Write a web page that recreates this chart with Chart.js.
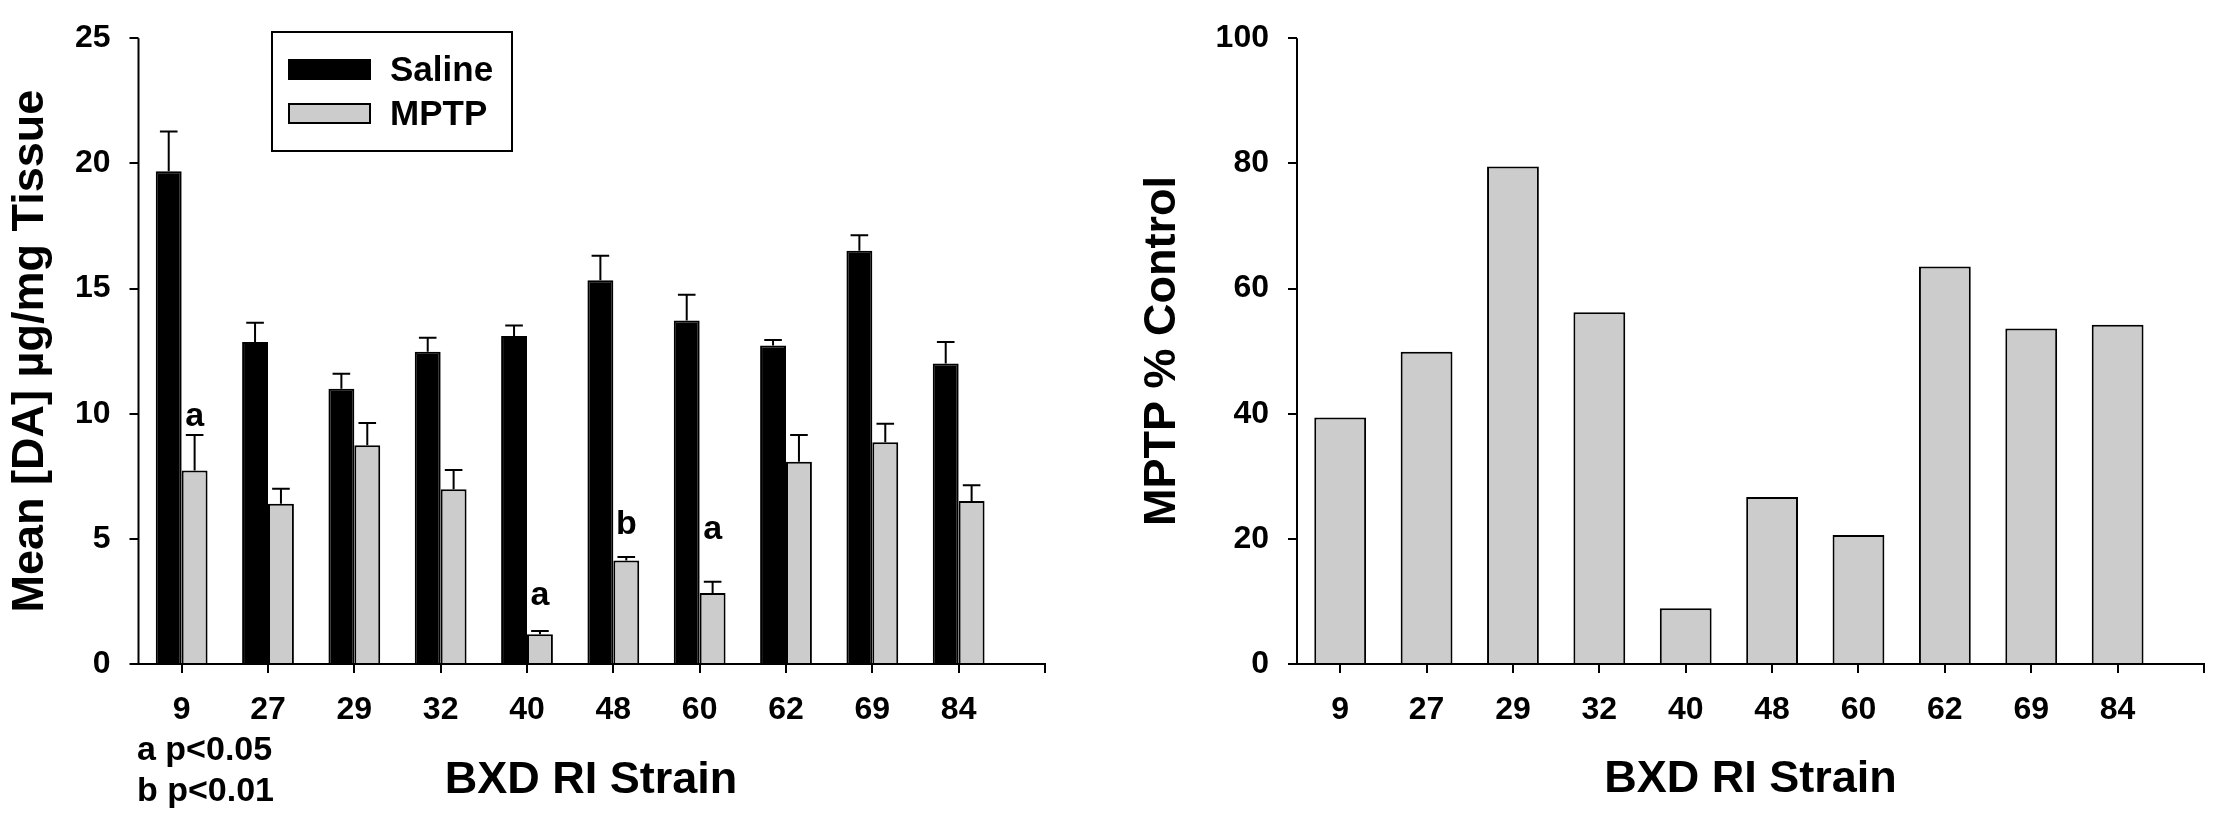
<!DOCTYPE html>
<html>
<head>
<meta charset="utf-8">
<script src="https://cdn.jsdelivr.net/npm/chart.js@4.4.1/dist/chart.umd.min.js"></script>
<style>
  html, body { margin: 0; padding: 0; background: #fff; }
  #wrap { position: relative; width: 2213px; height: 817px; overflow: hidden; }
  #left { position: absolute; left: 0; top: 0; }
  #right { position: absolute; left: 1100px; top: 0; }
</style>
</head>
<body>
<div id="wrap">
  <canvas id="left" width="1120" height="817"></canvas>
  <canvas id="right" width="1113" height="817"></canvas>
</div>
<script>
// BXD strains on the x axis
const strains = ['9', '27', '29', '32', '40', '48', '60', '62', '69', '84'];

// left panel: mean dopamine (ug/mg tissue) and SEM
const salineMean = [19.68, 12.86, 11.0, 12.47, 13.10, 15.33, 13.72, 12.72, 16.51, 12.0];
const salineSem  = [1.59, 0.77, 0.60, 0.56, 0.42, 0.98, 1.03, 0.22, 0.62, 0.86];
const mptpMean   = [7.73, 6.40, 8.74, 6.98, 1.19, 4.13, 2.84, 8.08, 8.86, 6.51];
const mptpSem    = [1.42, 0.60, 0.89, 0.77, 0.13, 0.14, 0.45, 1.07, 0.74, 0.63];

// significance letters over the MPTP bars (baseline in data units)
const sigLetters = ['a', '', '', '', 'a', 'b', 'a', '', '', ''];
const sigAt      = [9.5, null, null, null, 2.35, 5.2, 5.0, null, null, null];

// right panel: MPTP as % of saline control
const pctControl = [39.4, 49.9, 79.5, 56.2, 8.9, 26.7, 20.6, 63.5, 53.6, 54.2];

const leftTicks = [0, 5, 10, 15, 20, 25];
const rightTicks = [0, 20, 40, 60, 80, 100];

const FONT = '"Liberation Sans", Arial, Helvetica, sans-serif';
const TICK_LEN = 9;
const toPoints = (arr) => arr.map((v, i) => ({ x: i, y: v }));

// grid kept for spacing only, the visible axes are drawn by the axisLines plugin
const hiddenGrid = { offset: false, drawOnChartArea: false, drawTicks: true, tickLength: TICK_LEN, color: 'rgba(0,0,0,0)' };

function strainAxis(height) {
    return {
        type: 'linear',
        offset: false,
        min: -0.5,
        max: strains.length,
        afterBuildTicks: (scale) => {
            const ticks = strains.map((s, i) => ({ value: i }));
            ticks.push({ value: strains.length });
            scale.ticks = ticks;
        },
        afterFit: (scale) => {
            scale.height = height;
            scale.paddingLeft = 0;
            scale.paddingRight = 0;
        },
        ticks: {
            color: '#000',
            padding: 18,
            maxRotation: 0,
            autoSkip: false,
            font: { family: FONT, size: 32, weight: 'bold' },
            callback: (value) => strains[value] !== undefined ? strains[value] : ''
        },
        grid: hiddenGrid,
        border: { display: false }
    };
}

function valueAxis(max, tickValues, width, title) {
    return {
        min: 0,
        max: max,
        afterBuildTicks: (scale) => { scale.ticks = tickValues.map((v) => ({ value: v })); },
        afterFit: (scale) => { scale.width = width; },
        ticks: {
            color: '#000',
            padding: 19,
            font: { family: FONT, size: 32, weight: 'bold' }
        },
        grid: hiddenGrid,
        border: { display: false },
        title: {
            display: true,
            text: title,
            color: '#000',
            padding: { top: 4, bottom: 0 },
            font: { family: FONT, size: 45, weight: 'bold' }
        }
    };
}

// axis lines and outward tick marks
const axisLines = {
    id: 'axisLines',
    afterDatasetsDraw(chart) {
        const ctx = chart.ctx;
        const area = chart.chartArea;
        const xs = chart.scales.x, ys = chart.scales.y;
        ctx.save();
        ctx.strokeStyle = '#000';
        ctx.lineWidth = 2;
        ctx.lineCap = 'butt';
        ctx.beginPath();
        ctx.moveTo(area.left, area.top);
        ctx.lineTo(area.left, area.bottom + 1);
        ctx.moveTo(area.left - 1, area.bottom);
        ctx.lineTo(area.right + 1, area.bottom);
        ys.ticks.forEach((t) => {
            const py = Math.round(ys.getPixelForValue(t.value));
            ctx.moveTo(area.left - TICK_LEN, py);
            ctx.lineTo(area.left, py);
        });
        xs.ticks.forEach((t) => {
            const px = Math.round(xs.getPixelForValue(t.value));
            ctx.moveTo(px, area.bottom);
            ctx.lineTo(px, area.bottom + TICK_LEN);
        });
        ctx.stroke();
        ctx.restore();
    }
};

// upward whiskers with caps
const errorBars = {
    id: 'errorBars',
    afterDatasetsDraw(chart) {
        const ctx = chart.ctx;
        const y = chart.scales.y;
        chart.data.datasets.forEach((ds, di) => {
            if (!ds.sem) return;
            chart.getDatasetMeta(di).data.forEach((bar, i) => {
                const top = y.getPixelForValue(ds.data[i].y + ds.sem[i]);
                const half = bar.width * 0.34;
                ctx.save();
                ctx.strokeStyle = '#000';
                ctx.lineWidth = 2;
                ctx.beginPath();
                ctx.moveTo(bar.x, bar.y);
                ctx.lineTo(bar.x, top);
                ctx.moveTo(bar.x - half, top);
                ctx.lineTo(bar.x + half, top);
                ctx.stroke();
                ctx.restore();
            });
        });
    }
};

const sigMarks = {
    id: 'sigMarks',
    afterDatasetsDraw(chart) {
        const ctx = chart.ctx;
        const meta = chart.getDatasetMeta(1);
        ctx.save();
        ctx.fillStyle = '#000';
        ctx.font = 'bold 34px ' + FONT;
        ctx.textAlign = 'center';
        ctx.textBaseline = 'alphabetic';
        sigLetters.forEach((txt, i) => {
            if (!txt) return;
            ctx.fillText(txt, meta.data[i].x, chart.scales.y.getPixelForValue(sigAt[i]));
        });
        ctx.restore();
    }
};

// boxed legend in the upper part of the left panel
const boxLegend = {
    id: 'boxLegend',
    afterDraw(chart) {
        const ctx = chart.ctx;
        const box = { x: 272, y: 32, w: 240, h: 119 };
        const rows = [70, 114];
        ctx.save();
        ctx.fillStyle = '#fff';
        ctx.fillRect(box.x, box.y, box.w, box.h);
        ctx.strokeStyle = '#000';
        ctx.lineWidth = 2;
        ctx.strokeRect(box.x, box.y, box.w, box.h);
        chart.data.datasets.forEach((ds, i) => {
            const cy = rows[i];
            ctx.fillStyle = ds.backgroundColor;
            ctx.fillRect(289, cy - 10, 81, 19);
            ctx.strokeStyle = '#000';
            ctx.lineWidth = 2;
            ctx.strokeRect(289, cy - 10, 81, 19);
            ctx.fillStyle = '#000';
            ctx.font = 'bold 35px ' + FONT;
            ctx.textAlign = 'left';
            ctx.textBaseline = 'middle';
            ctx.fillText(ds.label, 390, cy + 1);
        });
        ctx.restore();
    }
};

// x title and footnote of the left panel
const leftNotes = {
    id: 'leftNotes',
    afterDraw(chart) {
        const ctx = chart.ctx;
        ctx.save();
        ctx.fillStyle = '#000';
        ctx.textBaseline = 'middle';
        ctx.textAlign = 'center';
        ctx.font = 'bold 45px ' + FONT;
        ctx.fillText('BXD RI Strain', 591, 781);
        ctx.textAlign = 'left';
        ctx.font = 'bold 34px ' + FONT;
        ctx.fillText('a p<0.05', 137, 751);
        ctx.fillText('b p<0.01', 137, 792);
        ctx.restore();
    }
};

new Chart(document.getElementById('left'), {
    type: 'bar',
    data: {
        datasets: [
            {
                label: 'Saline',
                data: toPoints(salineMean),
                sem: salineSem,
                backgroundColor: '#000000',
                borderColor: '#000000',
                borderWidth: 2
            },
            {
                label: 'MPTP',
                data: toPoints(mptpMean),
                sem: mptpSem,
                backgroundColor: '#cccccc',
                borderColor: '#000000',
                borderWidth: 2
            }
        ]
    },
    options: {
        responsive: false,
        devicePixelRatio: 1,
        animation: false,
        categoryPercentage: 0.6,
        barPercentage: 1.0,
        layout: { padding: { left: 0, right: 75, top: 34, bottom: 0 } },
        plugins: { legend: { display: false }, tooltip: { enabled: false } },
        scales: {
            x: strainAxis(153),
            y: valueAxis(25, leftTicks, 138.5, 'Mean [DA] \u00b5g/mg Tissue')
        }
    },
    plugins: [axisLines, errorBars, sigMarks, boxLegend, leftNotes]
});

const rightX = strainAxis(153);
rightX.title = {
    display: true,
    text: 'BXD RI Strain',
    color: '#000',
    padding: { top: 0, bottom: 10 },
    font: { family: FONT, size: 45, weight: 'bold' }
};

new Chart(document.getElementById('right'), {
    type: 'bar',
    data: {
        datasets: [
            {
                label: 'MPTP % Control',
                data: toPoints(pctControl),
                backgroundColor: '#cccccc',
                borderColor: '#000000',
                borderWidth: 2
            }
        ]
    },
    options: {
        responsive: false,
        devicePixelRatio: 1,
        animation: false,
        categoryPercentage: 0.6,
        barPercentage: 1.0,
        layout: { padding: { left: 32, right: 9, top: 20, bottom: 0 } },
        plugins: { legend: { display: false }, tooltip: { enabled: false } },
        scales: {
            x: rightX,
            y: valueAxis(100, rightTicks, 165, 'MPTP % Control')
        }
    },
    plugins: [axisLines]
});
</script>
</body>
</html>
